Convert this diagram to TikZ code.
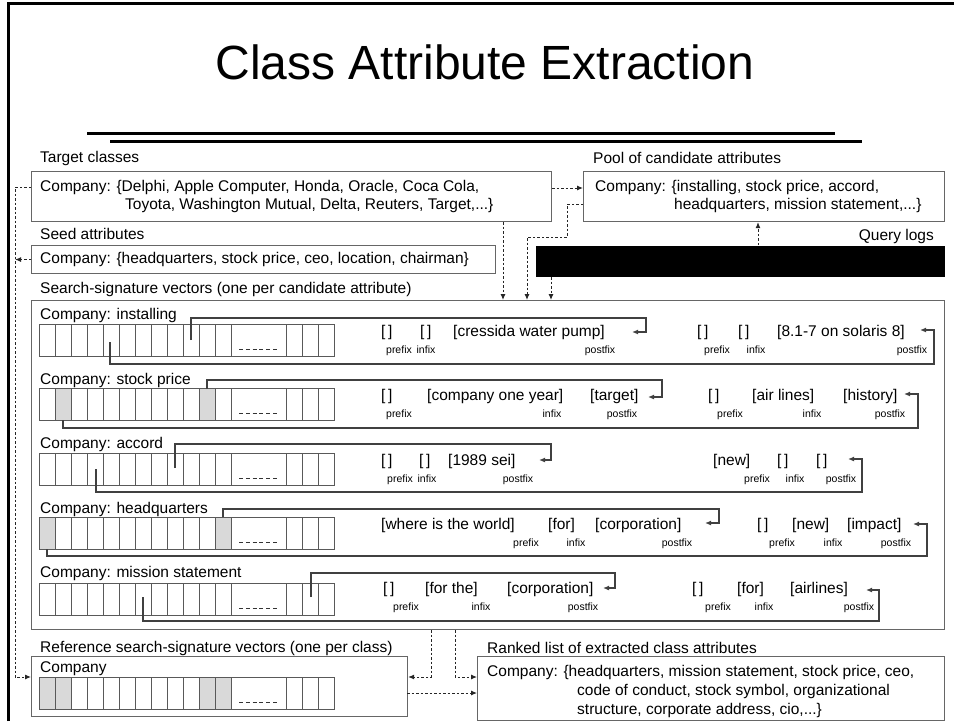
\documentclass[tikz,border=0pt]{standalone}
\usepackage{fontspec}
\setmainfont{Liberation Sans}
\usetikzlibrary{arrows.meta}
\newcommand{\sigvec}[1]{%
  \foreach \i in {0,...,11} {\draw[cell] ({39+16*\i},#1) rectangle ({55+16*\i},{#1+32});}
  \draw[cell] (231,#1) rectangle (286,{#1+32});
  \foreach \i in {0,1,2} {\draw[cell] ({286+16.3*\i},#1) rectangle ({302.3+16.3*\i},{#1+32});}
  \draw[cell, draw=black!80, dash pattern=on 4pt off 2.8pt] (239,{#1+25}) -- (278,{#1+25});
}
\begin{document}
\begin{tikzpicture}[x=1pt,y=-1pt,
  box/.style={draw=black!60, line width=1.1pt, rectangle, inner sep=0pt, anchor=north west},
  txt/.style={inner sep=0pt, anchor=west, font=\fontsize{15.5}{18}\selectfont},
  subl/.style={inner sep=0pt, anchor=base, font=\fontsize{10.5}{12}\selectfont},
  cell/.style={draw=black!65, line width=0.9pt},
  shadecell/.style={fill=black!15},
  dsh/.style={draw=black!85, line width=1pt, dash pattern=on 2.5pt off 2pt},
  conn/.style={draw=black!75, line width=1.2pt},
  arr/.style={-{Latex[length=6pt,width=5pt]}},
]
\useasboundingbox (0,0) rectangle (954,721);
% slide frame
\draw[line width=3pt] (8,721) -- (8,3) -- (954,3);
% title
\node[inner sep=0pt, anchor=base, font=\fontsize{48}{54}\selectfont] (title) at (485,79) {Class Attribute Extraction};
\coordinate (l1a) at (87,133); \coordinate (l1b) at (835,133);
\coordinate (l2a) at (110,141); \coordinate (l2b) at (862,141);
\draw[line width=3pt] (l1a) -- (l1b);
\draw[line width=3pt] (l2a) -- (l2b);

% boxes
\node[box, minimum width=520pt, minimum height=50pt] (target) at (31,171) {};
\node[box, minimum width=361pt, minimum height=50pt] (pool) at (583,171) {};
\node[box, minimum width=464pt, minimum height=28pt] (seed) at (31,245) {};
\node[box, draw=none, fill=black, minimum width=409pt, minimum height=31pt] (logs) at (535,245) {};
\node[box, minimum width=913pt, minimum height=329pt] (big) at (31,300) {};
\node[box, minimum width=376pt, minimum height=60pt] (ref) at (31,656) {};
\node[box, minimum width=467pt, minimum height=64pt] (ranked) at (477,656) {};

% labels and texts
\node[txt] (ltarget) at (40,158) {Target classes};
\node[txt] (lpool) at (593,158) {Pool of candidate attributes};
\node[txt] (lseed) at (40,234) {Seed attributes};
\node[txt, anchor=east] (llogs) at (934,236) {Query logs};
\node[txt] (lbig) at (40,289) {Search-signature vectors (one per candidate attribute)};
\node[txt] (lref) at (40,648) {Reference search-signature vectors (one per class)};
\node[txt] (lranked) at (487,648) {Ranked list of extracted class attributes};

\node[txt] (t1) at (40,187) {Company: \{Delphi, Apple Computer, Honda, Oracle, Coca Cola,};
\node[txt] (t2) at (125,205) {Toyota, Washington Mutual, Delta, Reuters, Target,...\}};
\node[txt] (p1) at (595,187) {Company: \{installing, stock price, accord,};
\node[txt] (p2) at (674,205) {headquarters, mission statement,...\}};
\node[txt] (s1) at (40,259) {Company: \{headquarters, stock price, ceo, location, chairman\}};
\node[txt] (k1) at (487,672) {Company: \{headquarters, mission statement, stock price, ceo,};
\node[txt] (k2) at (577,691) {code of conduct, stock symbol, organizational};
\node[txt] (k3) at (577,710) {structure, corporate address, cio,...\}};
\node[txt] (rc) at (40,669) {Company};

% row labels
\node[txt] (n1) at (40,315) {Company: installing};
\node[txt] (n2) at (40,380) {Company: stock price};
\node[txt] (n3) at (40,444) {Company: accord};
\node[txt] (n4) at (40,509) {Company: headquarters};
\node[txt] (n5) at (40,573) {Company: mission statement};

% vectors
\fill[shadecell] (55,388) rectangle (71,420);
\fill[shadecell] (199,388) rectangle (215,420);
\fill[shadecell] (39,517) rectangle (55,549);
\fill[shadecell] (215,517) rectangle (231,549);
\fill[shadecell] (39,677) rectangle (71,709);
\fill[shadecell] (199,677) rectangle (231,709);
\sigvec{324}
\sigvec{388}
\sigvec{453}
\sigvec{517}
\sigvec{583}
\sigvec{677}

% row 1
\node[txt] (a11) at (381,332) {[\,]};
\node[txt] (a12) at (420,332) {[\,]};
\node[txt] (a13) at (453,332) {[cressida water pump]};
\node[txt] (a14) at (697,332) {[\,]};
\node[txt] (a15) at (738,332) {[\,]};
\node[txt] (a16) at (777,332) {[8.1-7 on solaris 8]};
\node[subl] (b11) at (399,353) {prefix};
\node[subl] (b12) at (426,353) {infix};
\node[subl] (b13) at (600,353) {postfix};
\node[subl] (b14) at (717,353) {prefix};
\node[subl] (b15) at (756,353) {infix};
\node[subl] (b16) at (912,353) {postfix};
% row 2
\node[txt] (a21) at (381,396) {[\,]};
\node[txt] (a22) at (427,396) {[company one year]};
\node[txt] (a23) at (590,396) {[target]};
\node[txt] (a24) at (708,396) {[\,]};
\node[txt] (a25) at (752,396) {[air lines]};
\node[txt] (a26) at (843,396) {[history]};
\node[subl] (b21) at (399,417) {prefix};
\node[subl] (b22) at (552,417) {infix};
\node[subl] (b23) at (622,417) {postfix};
\node[subl] (b24) at (730,417) {prefix};
\node[subl] (b25) at (812,417) {infix};
\node[subl] (b26) at (890,417) {postfix};
% row 3
\node[txt] (a31) at (381,461) {[\,]};
\node[txt] (a32) at (419,461) {[\,]};
\node[txt] (a33) at (448,461) {[1989 sei]};
\node[txt] (a34) at (713,461) {[new]};
\node[txt] (a35) at (777,461) {[\,]};
\node[txt] (a36) at (816,461) {[\,]};
\node[subl] (b31) at (400,482) {prefix};
\node[subl] (b32) at (427,482) {infix};
\node[subl] (b33) at (518,482) {postfix};
\node[subl] (b34) at (757,482) {prefix};
\node[subl] (b35) at (795,482) {infix};
\node[subl] (b36) at (841,482) {postfix};
% row 4
\node[txt] (a41) at (381,525) {[where is the world]};
\node[txt] (a42) at (548,525) {[for]};
\node[txt] (a43) at (595,525) {[corporation]};
\node[txt] (a44) at (757,525) {[\,]};
\node[txt] (a45) at (792,525) {[new]};
\node[txt] (a46) at (847,525) {[impact]};
\node[subl] (b41) at (526,546) {prefix};
\node[subl] (b42) at (576,546) {infix};
\node[subl] (b43) at (677,546) {postfix};
\node[subl] (b44) at (782,546) {prefix};
\node[subl] (b45) at (833,546) {infix};
\node[subl] (b46) at (896,546) {postfix};
% row 5
\node[txt] (a51) at (383,589) {[\,]};
\node[txt] (a52) at (425,589) {[for the]};
\node[txt] (a53) at (507,589) {[corporation]};
\node[txt] (a54) at (692,589) {[\,]};
\node[txt] (a55) at (737,589) {[for]};
\node[txt] (a56) at (790,589) {[airlines]};
\node[subl] (b51) at (406,610) {prefix};
\node[subl] (b52) at (481,610) {infix};
\node[subl] (b53) at (583,610) {postfix};
\node[subl] (b54) at (718,610) {prefix};
\node[subl] (b55) at (764,610) {infix};
\node[subl] (b56) at (859,610) {postfix};

% row connectors
\coordinate (c1a) at (191,340); \coordinate (c1b) at (632,332);
\coordinate (c1c) at (110,342); \coordinate (c1d) at (920,330);
\draw[conn, arr] (c1a) -- (191,318) -- (646,318) -- (646,332) -- (c1b);
\draw[conn, arr] (c1c) -- (110,364) -- (934,364) -- (934,330) -- (c1d);
\coordinate (c2a) at (207,389); \coordinate (c2b) at (648,397);
\coordinate (c2c) at (63,420); \coordinate (c2d) at (904,394);
\draw[conn, arr] (c2a) -- (207,380) -- (662,380) -- (662,397) -- (c2b);
\draw[conn, arr] (c2c) -- (63,428) -- (918,428) -- (918,394) -- (c2d);
\coordinate (c3a) at (175,468); \coordinate (c3b) at (539,460);
\coordinate (c3c) at (96,469); \coordinate (c3d) at (848,459);
\draw[conn, arr] (c3a) -- (175,444) -- (551,444) -- (551,460) -- (c3b);
\draw[conn, arr] (c3c) -- (96,492) -- (862,492) -- (862,459) -- (c3d);
\coordinate (c4a) at (223,517); \coordinate (c4b) at (705,523);
\coordinate (c4c) at (47,549); \coordinate (c4d) at (913,524);
\draw[conn, arr] (c4a) -- (223,509) -- (719,509) -- (719,523) -- (c4b);
\draw[conn, arr] (c4c) -- (47,556) -- (927,556) -- (927,524) -- (c4d);
\coordinate (c5a) at (311,597); \coordinate (c5b) at (603,588);
\coordinate (c5c) at (143,597); \coordinate (c5d) at (866,590);
\draw[conn, arr] (c5a) -- (311,573) -- (615,573) -- (615,588) -- (c5b);
\draw[conn, arr] (c5c) -- (143,621) -- (879,621) -- (879,590) -- (c5d);

% dashed flow connectors
\coordinate (L1) at (15,187); \coordinate (L2) at (15,677);
\draw[dsh, arr] ([yshift=-16pt]target.north west) -- (L1) -- (L2) -- (ref.west |- L2);
\draw[dsh, arr] (seed.west) -- (seed.west -| L1);
\draw[dsh, arr] ([yshift=-17pt]target.north east) -- ([yshift=-17pt]pool.north west);
\coordinate (q1) at (567,204); \coordinate (q2) at (567,237); \coordinate (q3) at (527,237);
\draw[dsh, arr] (pool.west |- q1) -- (q1) -- (q2) -- (q3) -- (q3 |- big.north);
\draw[dsh, arr] ([xshift=472pt]target.south west) -- ([xshift=472pt]target.south west |- big.north);
\draw[dsh, arr] ([xshift=16pt]logs.south west) -- ([xshift=16pt]logs.south west |- big.north);
\draw[dsh, arr] ([xshift=223pt]logs.north west) -- ([xshift=223pt]logs.north west |- pool.south);
\coordinate (d1) at (431,677); \coordinate (d2) at (455,677);
\draw[dsh, arr] (d1 |- big.south) -- (d1) -- (ref.east |- d1);
\draw[dsh, arr] (d2 |- big.south) -- (d2) -- (ranked.west |- d2);
\coordinate (d3) at (407,693);
\draw[dsh, arr] (d3) -- (ranked.west |- d3);
\end{tikzpicture}
\end{document}
